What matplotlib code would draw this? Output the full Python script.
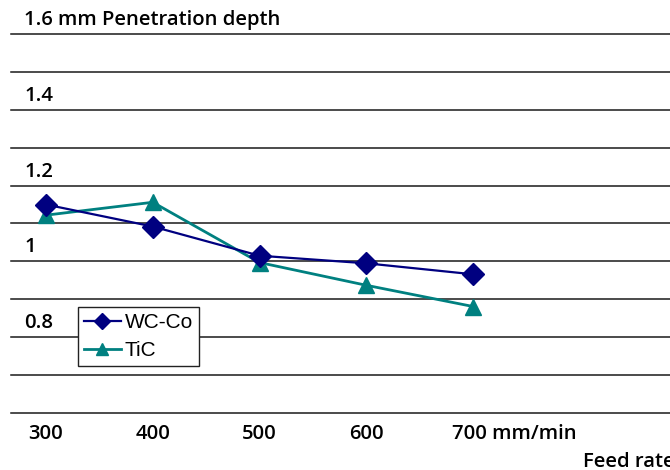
import matplotlib
matplotlib.use("Agg")
import matplotlib.pyplot as plt
from matplotlib.transforms import ScaledTranslation

# feed rate (mm/min) and penetration depth (mm)
feed_rate = [300, 400, 500, 600, 700]
wc_co = [1.15, 1.092, 1.015, 0.995, 0.966]
tic = [1.122, 1.156, 0.997, 0.937, 0.881]

grid_levels = [0.6, 0.7, 0.8, 0.9, 1.0, 1.1, 1.2, 1.3, 1.4, 1.5, 1.6]
y_label_values = [1.6, 1.4, 1.2, 1.0, 0.8]
y_label_texts = ["1.6 mm Penetration depth", "1.4", "1.2", "1", "0.8"]
x_tick_labels = ["300", "400", "500", "600", "700 mm/min"]

label_font = dict(family=["Open Sans", "DejaVu Sans"], weight="semibold", size=14.6)


def main():
    fig = plt.figure(figsize=(6.7, 4.7), dpi=100)
    ax = fig.add_axes([11 / 670, 1 - 413 / 470, 1 - 11 / 670, (413 - 34) / 470])

    ax.set_xlim(267.2, 884.5)
    ax.set_ylim(0.6, 1.6)

    for s in ax.spines.values():
        s.set_visible(False)

    ax.set_yticks(grid_levels)
    ax.set_yticklabels([])
    ax.tick_params(axis="y", length=0)
    ax.yaxis.grid(True, color="#1a1a1a", linewidth=1.1)
    for gl in ax.get_ygridlines():
        gl.set_clip_on(False)
    ax.set_axisbelow(True)

    ax.plot(feed_rate, wc_co, color="#000080", linewidth=1.6, marker="D",
            markersize=11, label="WC-Co", zorder=3)
    ax.plot(feed_rate, tic, color="#008080", linewidth=2.0, marker="^",
            markersize=12, label="TiC", zorder=2)

    ax.set_xticks(feed_rate)
    ax.set_xticklabels(x_tick_labels, **label_font)
    ax.tick_params(axis="x", length=0, pad=8)
    # "700 mm/min": keep the number under its point, unit trailing right
    last = ax.get_xticklabels()[-1]
    last.set_horizontalalignment("left")
    last.set_transform(last.get_transform() + ScaledTranslation(-0.21, 0, fig.dpi_scale_trans))

    # value labels sit just above their grid lines at the left
    for val, txt in zip(y_label_values, y_label_texts):
        ax.text(13 / 659, val + 0.024, txt, transform=ax.get_yaxis_transform(),
                ha="left", va="baseline", **label_font)

    leg = ax.legend(loc="upper left", bbox_to_anchor=((78 - 11) / 659, (413 - 307) / 379),
                    frameon=True, fancybox=False, edgecolor="#222222",
                    framealpha=1, borderpad=0.3, handlelength=1.75, handletextpad=0.2,
                    labelspacing=0.42, borderaxespad=0, markerscale=0.75,
                    prop=dict(family=["Liberation Sans", "DejaVu Sans"], size=15))
    leg.get_frame().set_linewidth(1.0)

    fig.text(583 / 670, 1 - 467 / 470, "Feed rate", ha="left", va="baseline", **label_font)

    fig.savefig("out.png", dpi=100)


if __name__ == "__main__":
    main()
